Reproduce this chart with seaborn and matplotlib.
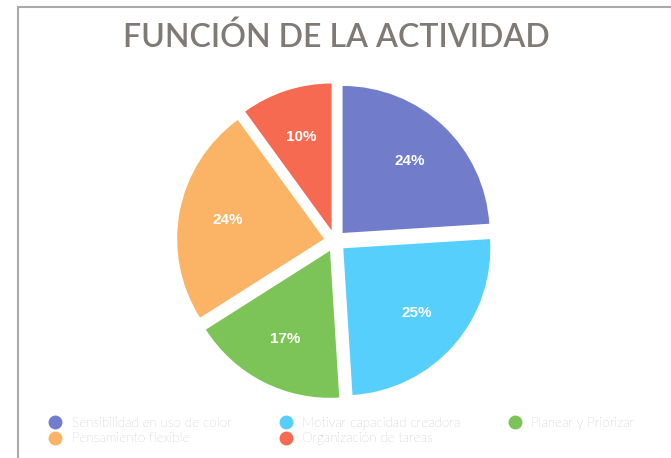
import matplotlib
matplotlib.use("Agg")
import matplotlib.pyplot as plt
from matplotlib.lines import Line2D
import seaborn as sns

# Data
categories = [
    "Sensibilidad en uso de color",
    "Motivar capacidad creadora",
    "Planear y Priorizar",
    "Pensamiento flexible",
    "Organización de tareas",
]
values = [24, 25, 17, 24, 10]
colors = ["#717ccb", "#57cffd", "#7cc458", "#fbb466", "#f76a52"]
title = "FUNCIÓN DE LA ACTIVIDAD"

sns.set_theme(style="white")
plt.rcParams["font.family"] = ["Lato", "DejaVu Sans"]

W, H = 671, 458
fig = plt.figure(figsize=(W / 100, H / 100), dpi=100)
fig.patch.set_facecolor("white")

# Square axes holding the pie, centred at (335, 241) px from top-left
r_px = 147
lim = 1.25
side = 2 * lim * r_px
cx, cy = 335, H - 241
ax = fig.add_axes([(cx - side / 2) / W, (cy - side / 2) / H, side / W, side / H])

palette = sns.color_palette(colors)
wedges, texts, autotexts = ax.pie(
    values,
    colors=palette,
    startangle=90,
    counterclock=False,
    explode=[0.075] * len(values),
    autopct=lambda p: f"{p:.0f}%",
    pctdistance=0.67,
    wedgeprops=dict(linewidth=0),
    textprops=dict(color="white", fontsize=11, fontweight="bold",
                   family=["Liberation Sans", "DejaVu Sans"]),
)
ax.set_xlim(-lim, lim)
ax.set_ylim(-lim, lim)
ax.set_aspect("equal")
ax.axis("off")

# Title
fig.text(336 / W, 1 - 38 / H, title, ha="center", va="center",
         fontsize=23, color="#7f7a76", fontweight="semibold")

# Legend in two rows (column-major order)
order = [0, 3, 1, 4, 2]
handles = [Line2D([], [], marker="o", linestyle="none", markersize=10,
                  markerfacecolor=colors[i], markeredgewidth=0) for i in order]
labels = [categories[i] for i in order]
leg = fig.legend(handles, labels, ncol=3, loc="upper left",
                 bbox_to_anchor=(42 / W, 1 - 410 / H), frameon=False,
                 fontsize=9.6, handletextpad=0.75, columnspacing=3.55,
                 labelspacing=0.2, handlelength=1.0, borderpad=0)
for t in leg.get_texts():
    t.set_color("#939393")
    t.set_fontweight("light")

# Frame lines along the top and left edges
fig.add_artist(Line2D([18 / W, 1], [1 - 6.5 / H, 1 - 6.5 / H],
                      transform=fig.transFigure, color="#aaaaaa", lw=1.5))
fig.add_artist(Line2D([18 / W, 18 / W], [0, 1 - 6.5 / H],
                      transform=fig.transFigure, color="#aaaaaa", lw=1.5))

fig.savefig("out.png", dpi=100, facecolor="white")
